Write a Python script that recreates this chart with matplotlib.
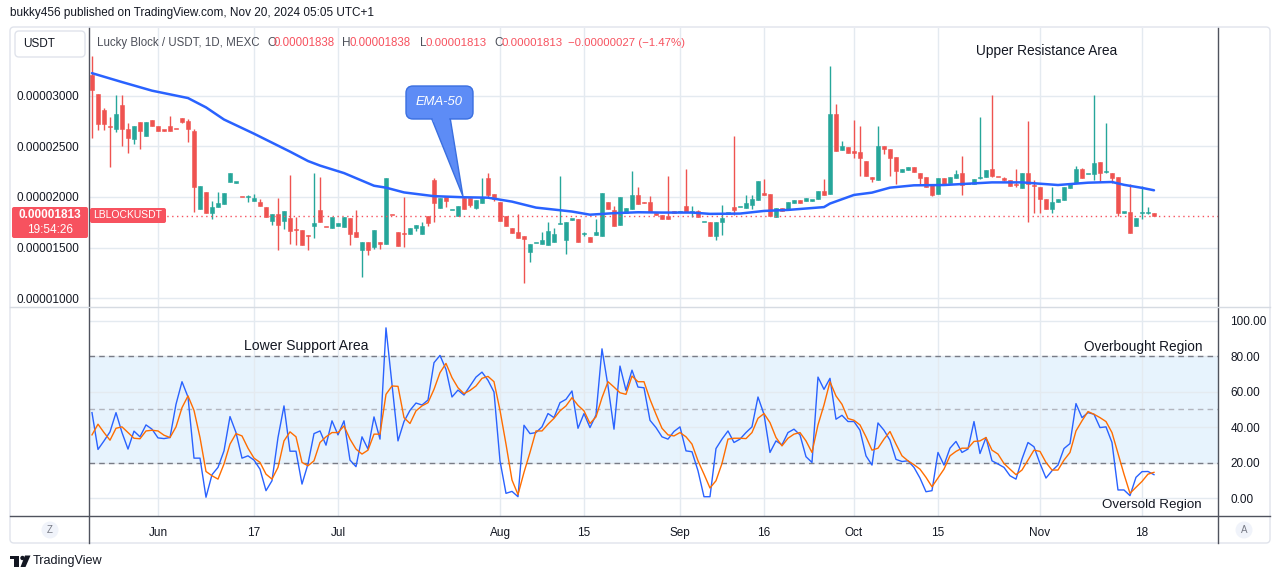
import numpy as np
import matplotlib
matplotlib.use("Agg")
import matplotlib.pyplot as plt
import matplotlib.transforms as mtransforms
from matplotlib.patches import FancyBboxPatch, Polygon, Circle, Rectangle
from matplotlib.lines import Line2D

plt.rcParams['font.family'] = ['Liberation Sans', 'DejaVu Sans']

# ---------------- data (prices in units of 0.00000001 USDT) ----------------
SCALE = 1e-8
first_bar = -11          # bar index of first candle, 0 = Jun 1

opens = [3200, 3013, 2862, 2695, 2672, 2905, 2675, 2574, 2738, 2603,
         2757, 2700, 2660, 2698, 2675, 2777, 2748, 2653, 1885, 2049,
         1846, 1905, 1934, 2144, 2142, 2002, 2000, 1964, 1951, 1902,
         1767, 1833, 1767, 1790, 1678, 1675, 1620, 1718, 1872, 1705,
         1692, 1718, 1708, 1790, 1656, 1472, 1557, 1505, 1554, 1538,
         1822, 1656, 1636, 1636, 1695, 1636, 1816, 2167, 1895, 2000,
         1869, 1816, 1993, 1990, 1892, 1944, 2190, 2030, 1951, 1813,
         1695, 1656, 1616, 1452, 1541, 1538, 1521, 1551, 1732, 1577,
         1777, 1780, 1636, 1607, 1620, 1610, 1951, 1872, 1728, 1839,
         1879, 2016, 1947, 1948, 1839, 1823, 1816, 1859, 1853, 1915,
         1852, 1859, 1748, 1754, 1610, 1748, 1836, 1902, 1900, 1892,
         1925, 1974, 2030, 2030, 1807, 1892, 1885, 1944, 1970, 1964,
         1965, 1980, 2059, 2030, 2816, 2462, 2492, 2453, 2443, 2354,
         2197, 2170, 2508, 2472, 2393, 2246, 2266, 2295, 2236, 2197,
         2115, 2030, 2187, 2141, 2187, 2236, 2125, 2128, 2184, 2197,
         2275, 2199, 2187, 2167, 2120, 2092, 2236, 2113, 2098, 1980,
         1882, 1951, 1970, 2088, 2138, 2275, 2223, 2226, 2344, 2243,
         2236, 2197, 1846, 1852, 1718, 1837, 1840, 1838]
highs = [3397, 3013, 2882, 2790, 3003, 3003, 2731, 2698, 2738, 2738,
         2757, 2700, 2660, 2797, 2675, 2777, 2774, 2675, 2108, 2049,
         1961, 2046, 2039, 2233, 2146, 2002, 2016, 2030, 1980, 1902,
         1833, 1990, 1859, 2213, 1807, 1675, 1620, 2233, 2200, 1705,
         1800, 1744, 1800, 1790, 1872, 1557, 1557, 1675, 1554, 2190,
         1822, 1656, 2003, 1695, 1725, 1748, 1816, 2187, 1993, 2000,
         1875, 1911, 2003, 1990, 1974, 2187, 2236, 2030, 1951, 1813,
         1695, 1833, 1616, 1538, 1547, 1656, 1754, 1692, 2207, 1754,
         1783, 1780, 1652, 1607, 1784, 2036, 1951, 1915, 2000, 1892,
         2256, 2102, 1947, 2013, 1839, 1823, 2207, 1859, 1859, 2275,
         1915, 1872, 1752, 1754, 1754, 1921, 1839, 2600, 1903, 2020,
         2020, 2157, 2177, 2030, 1892, 1892, 1951, 1970, 1970, 1990,
         1970, 2059, 2177, 3298, 2915, 2551, 2492, 2757, 2698, 2354,
         2197, 2698, 2508, 2472, 2393, 2275, 2295, 2295, 2236, 2197,
         2115, 2187, 2187, 2197, 2266, 2403, 2130, 2177, 2787, 2266,
         3003, 2199, 2197, 2167, 2275, 2236, 2748, 2167, 2098, 1980,
         2098, 1980, 2098, 2138, 2305, 2285, 2229, 3003, 2344, 2728,
         2236, 2197, 1852, 2128, 1793, 2108, 1902, 1838]
lows = [2587, 2659, 2659, 2292, 2643, 2505, 2436, 2528, 2469, 2603,
        2705, 2653, 2655, 2653, 2670, 2731, 2544, 1856, 1885, 1846,
        1780, 1905, 1934, 2144, 2142, 1998, 1954, 1964, 1915, 1807,
        1725, 1472, 1685, 1534, 1528, 1525, 1479, 1593, 1748, 1700,
        1692, 1718, 1708, 1521, 1600, 1206, 1423, 1489, 1489, 1538,
        1818, 1511, 1502, 1636, 1659, 1636, 1715, 1754, 1895, 1905,
        1869, 1816, 1885, 1905, 1882, 1944, 1987, 1964, 1767, 1718,
        1649, 1590, 1151, 1354, 1541, 1538, 1521, 1551, 1732, 1433,
        1777, 1551, 1616, 1551, 1620, 1610, 1885, 1718, 1728, 1839,
        1879, 1931, 1941, 1852, 1820, 1787, 1780, 1839, 1853, 1856,
        1807, 1807, 1748, 1610, 1570, 1620, 1836, 1823, 1900, 1892,
        1885, 1974, 2020, 1816, 1807, 1859, 1885, 1944, 1944, 1964,
        1965, 1980, 2023, 2030, 2453, 2462, 2436, 2387, 2207, 2207,
        2151, 2170, 2426, 2207, 2128, 2246, 2266, 2246, 2121, 2098,
        2010, 2030, 2118, 2141, 2187, 2020, 2125, 2128, 2177, 2197,
        2197, 2195, 2157, 2111, 2098, 2092, 1757, 1846, 1846, 1882,
        1846, 1951, 1970, 2088, 2138, 2190, 2223, 2167, 2148, 2236,
        2138, 1816, 1846, 1649, 1718, 1784, 1836, 1813]
closes = [3059, 2725, 2725, 2690, 2816, 2672, 2584, 2698, 2653, 2738,
          2705, 2653, 2655, 2653, 2670, 2741, 2672, 2095, 2108, 1846,
          1905, 1941, 2039, 2233, 2146, 1998, 2010, 1990, 1915, 1807,
          1833, 1728, 1859, 1659, 1672, 1525, 1616, 1744, 1754, 1700,
          1800, 1744, 1800, 1633, 1600, 1557, 1479, 1675, 1538, 2190,
          1818, 1511, 1632, 1695, 1725, 1715, 1741, 1944, 1993, 1964,
          1875, 1911, 1885, 1918, 1974, 1987, 2020, 1977, 1767, 1718,
          1649, 1590, 1580, 1538, 1547, 1574, 1666, 1636, 1738, 1754,
          1783, 1551, 1643, 1551, 1656, 2036, 1885, 1718, 2000, 1892,
          2016, 1931, 1941, 1852, 1820, 1787, 1780, 1839, 1859, 1856,
          1858, 1807, 1752, 1610, 1754, 1793, 1839, 1872, 1903, 1941,
          1980, 2157, 2023, 1816, 1892, 1859, 1951, 1970, 1944, 1990,
          1970, 2059, 2023, 2816, 2453, 2502, 2436, 2436, 2387, 2207,
          2180, 2508, 2469, 2387, 2259, 2275, 2295, 2246, 2187, 2098,
          2020, 2187, 2118, 2197, 2226, 2118, 2130, 2177, 2190, 2266,
          2207, 2195, 2167, 2111, 2115, 2236, 2128, 2108, 1984, 1882,
          1951, 1980, 2098, 2138, 2275, 2190, 2229, 2334, 2239, 2249,
          2187, 1843, 1852, 1649, 1793, 1843, 1843, 1813]

# EMA-50 at sample bars
ema_bars = [-11, -6, -1, 5, 8, 11, 16, 22, 25, 27, 31, 36, 38, 41, 46, 51, 55,
            59, 63, 69, 72, 76, 80, 84, 89, 92, 97, 101, 105, 111, 112, 116,
            119, 122, 126, 131, 139, 144, 150, 155, 159, 161, 164, 166]
ema_vals = [3223, 3135, 3050, 2977, 2885, 2765, 2625, 2448, 2355, 2310, 2236,
            2111, 2092, 2045, 2008, 1997, 1993, 1954, 1895, 1856, 1825, 1840,
            1849, 1846, 1846, 1833, 1836, 1862, 1872, 1900, 1935, 2020, 2043,
            2092, 2115, 2118, 2144, 2144, 2118, 2141, 2148, 2120, 2090, 2066]

stoch_k = [48.2, 27.5, 32.3, 37.4, 48.2, 37, 27.7, 37.8, 34.6, 41.3,
           38.9, 34, 33.6, 34.2, 52.9, 65.6, 57, 22.6, 22.6, 0.6,
           13.3, 17.4, 26.7, 46, 37, 22.6, 23.9, 21.5, 16.4, 4.3,
           9.9, 34.2, 52, 26.5, 26.5, 8, 19.3, 36.4, 37.9, 29.9,
           43.6, 35.7, 43.6, 21.5, 17.8, 34.6, 27.7, 45.8, 33.3, 95.9,
           64.1, 32.3, 43.2, 49.5, 53.6, 52.5, 55.3, 76.3, 80.4, 72.5,
           57, 60.9,
           58.1, 63.2, 68.2, 71, 66.4, 59.8, 21.1, 2.8, 3.9, 0.9,
           41.1, 36.4, 37, 40.2, 47.7, 45.4, 53.8, 55.7, 60.4, 39.4,
           47.7, 39.8, 46.9, 84.1, 63.2, 38.9, 74.4, 60.7, 72.1, 62.6,
           62.2, 43.9, 39.8, 34.6, 33.3, 37.6, 40.2, 26.7, 26.2, 15.5,
           0.9, 0.9, 28, 33.3, 37.9, 31.4, 33.3, 37, 40.2, 57,
           47.3, 25.8, 32.3, 30.1, 37, 38.9, 35.7, 23.4, 20.2, 68.2,
           61.3, 67.5, 44.5, 46.7, 43.2, 43.2, 38.3, 23.9, 18.7, 42.4,
           38.3, 32.7, 21.9, 20.7, 21.1, 17.4, 11.4, 3.7, 4.3, 25.8,
           18.7, 28.2, 32, 25.8, 27.7, 43.2, 25.2, 34.2, 21.1, 19.3,
           17.4, 12.7, 10.8, 22.1, 31.4, 29, 19.6, 11.4, 15.5, 18.7,
           28, 30.8, 53.3, 45.4, 48.2, 47.3, 39.8, 40.2, 31.4, 4.7,
           4.7, 1.5, 11.8, 15, 15.1, 13.3]
stoch_d = [35.7, 41.7, 37, 32.7, 39.4, 40.2, 37, 33.8, 33.5, 37.9,
           38.3, 37.9, 35.5, 34.2, 40.2, 51, 57.6, 49.5, 34.2, 15.1,
           12.7, 10.8, 19.3, 30.5, 36.4, 35.1, 28.2, 22.6, 20.2, 13.6,
           10.8, 17.4, 32.3, 37.4, 34.6, 20.2, 18.3, 21.1, 31.4, 34.6,
           37, 37, 40.7, 33.3, 27.7, 24.9, 27.1, 36.1, 36.1, 58.5,
           63.2, 63, 45.4, 42.1, 49.2, 52, 53.8, 61.3, 70.7, 75.9,
           67.9, 62.2,
           58.9, 60.7, 63.2, 67.5, 68.6, 65.6, 49.5, 30.5, 10.3, 2.1,
           14.6, 25.8, 37.9, 37.9, 41.7, 45, 49.2, 52, 56.6, 52.3,
           49.2, 42.1, 45.8, 56.6, 65.6, 62.6, 59.4, 58.5, 68.8, 65.6,
           65.6, 55.7, 47.3, 39.4, 35.7, 35.1, 37, 34.6, 30.5, 21.1,
           13.6, 5.8, 9.9, 19.6, 33.3, 33.8, 33.8, 33.6, 37, 45,
           47.7, 42.6, 34.2, 29.5, 33.8, 36.1, 37, 32.3, 25.8, 41.3,
           52.5, 65.6, 57.6, 52.9, 44.9, 43.9, 41.3, 34.6, 27.1, 28.2,
           33.3, 37.6, 30.5, 23.9, 21.1, 18.9, 16.4, 11.8, 6.5, 11.4,
           16.4, 23.9, 26.4, 28.2, 28.2, 32, 32.3, 34.2, 27.1, 24.9,
           19.6, 16.4, 13.3, 15.9, 21.5, 27.1, 26.4, 20.2, 15.9, 15.9,
           21.5, 25.8, 37.9, 43.6, 48.8, 47.3, 45.4, 43.2, 37, 25.2,
           13.6, 2.8, 6.2, 9.5, 13.6, 14.6]

tick_bars = [0, 16, 30, 57, 71, 87, 101, 116, 130, 147, 164]
tick_labels = ["Jun", "17", "Jul", "Aug", "15", "Sep", "16", "Oct", "15", "Nov", "18"]
price_ticks = [1000, 1500, 2000, 2500, 3000]
stoch_ticks = [0, 20, 40, 60, 80, 100]

# ---------------- style ----------------
GREEN, RED = '#26a69a', '#ef5350'
TXT = '#131722'
GRID = '#e4eaf0'
AXLINE = '#50535e'
LRED = '#f7525f'

W, H = 1281, 579
fig = plt.figure(figsize=(W / 100, H / 100), dpi=100, facecolor='white')
ID = mtransforms.IdentityTransform()


def P(x, y):
    return (x, H - y)


def rect(x0, y0, x1, y1):
    return [x0 / W, 1 - y1 / H, (x1 - x0) / W, (y1 - y0) / H]


def T(x, y, s, **kw):
    kw.setdefault('va', 'center')
    kw.setdefault('color', TXT)
    return fig.text(*P(x, y), s, transform=ID, **kw)


X0, X1 = 89, 1218
ax = fig.add_axes(rect(X0, 28, X1, 306))
ax2 = fig.add_axes(rect(X0, 306, X1, 516))

x = np.arange(first_bar, first_bar + len(opens))
o = np.array(opens) * SCALE
h = np.array(highs) * SCALE
l = np.array(lows) * SCALE
c = np.array(closes) * SCALE
cols = np.where(c >= o, GREEN, RED)
ymin, ymax = 923 * SCALE, 3669 * SCALE
px_price = (ymax - ymin) / (306 - 28)
body_b = np.minimum(o, c)
body_h = np.maximum(np.abs(c - o), 1.3 * px_price)

for a in (ax, ax2):
    a.set_facecolor('white')
    for s in a.spines.values():
        s.set_visible(False)
    a.set_xticks(tick_bars)
    a.set_xlim(-11.5, 176.67)
    a.grid(True, color=GRID, lw=1)
    a.set_axisbelow(True)

ax.vlines(x, l, h, colors=cols, lw=1, zorder=2)
ax.bar(x, body_h, bottom=body_b, width=0.8, color=cols, edgecolor=cols,
       linewidth=0.4, zorder=2)
ax.plot(ema_bars, np.array(ema_vals) * SCALE, color='#2962ff', lw=1.8,
        solid_capstyle='round', solid_joinstyle='round', zorder=4)
ax.axhline(c[-1], color=LRED, lw=1, ls=(0, (1, 2.5)), zorder=3)
ax.set_ylim(ymin, ymax)
ax.set_xlim(-11.5, 176.67)
ax.set_yticks(np.array(price_ticks) * SCALE)
ax.set_yticklabels([f"{v * SCALE:.8f}" for v in price_ticks])
ax.tick_params(axis='y', length=0, pad=7, labelsize=8.5, labelcolor=TXT)
ax.tick_params(axis='x', length=0, labelbottom=False)

# stochastic panel
ax2.axhspan(20, 80, color='#e7f3fd', zorder=0.5, lw=0)
ax2.axhline(80, color='#787b86', lw=1, ls=(0, (4, 3)), zorder=1)
ax2.axhline(20, color='#787b86', lw=1, ls=(0, (4, 3)), zorder=1)
ax2.axhline(50, color='#b2b5be', lw=1, ls=(0, (4, 3)), zorder=1)
ax2.plot(x, stoch_k, color='#2962ff', lw=1.0, zorder=3)
ax2.plot(x, stoch_d, color='#ff6d00', lw=1.0, zorder=3)
ax2.set_ylim(-9.95, 108.2)
ax2.set_xlim(-11.5, 176.67)
ax2.yaxis.tick_right()
ax2.set_yticks(stoch_ticks)
ax2.set_yticklabels([f"{v:.2f}" for v in stoch_ticks])
ax2.tick_params(axis='y', length=0, pad=9, labelsize=8.5, labelcolor=TXT)
ax2.set_xticklabels(tick_labels)
ax2.tick_params(axis='x', length=0, pad=8, labelsize=8.5, labelcolor=TXT)

# ---------------- frame / separators ----------------
frame = FancyBboxPatch(P(10, 543), 1260, 516, boxstyle='round,pad=0,rounding_size=4',
                       transform=ID, fc='none', ec='#e0e3eb', lw=1, zorder=1)
fig.patches.append(frame)
for (xa, ya, xb, yb, col) in [(X0, 28, X0, 543, AXLINE), (X1, 28, X1, 543, AXLINE),
                              (10, 516, 1270, 516, AXLINE), (10, 306.5, 1270, 306.5, '#d6dbe2')]:
    fig.lines.append(Line2D([xa, xb], [H - ya, H - yb], transform=ID, color=col, lw=1, zorder=2))

# ---------------- texts ----------------
renderer = fig.canvas.get_renderer()


def fit(t, width):
    w = t.get_window_extent(renderer).width
    t.set_fontsize(t.get_fontsize() * width / w)
    return t


fit(T(10, 13, "bukky456 published on TradingView.com, Nov 20, 2024 05:05 UTC+1",
      fontsize=9, color='#131722'), 363)

fig.patches.append(FancyBboxPatch(P(15, 57), 70, 26, boxstyle='round,pad=0,rounding_size=4',
                                  transform=ID, fc='white', ec='#e0e3eb', lw=1, zorder=5))
T(23, 44, "USDT", fontsize=8.5, zorder=6)

LEG = '#4c4f59'
fit(T(97, 43, "Lucky Block / USDT, 1D, MEXC", fontsize=8.5, color=LEG), 162)
for xl, lab, xv, val in [(267, "O", 274, "0.00001838"), (342, "H", 350, "0.00001838"),
                         (420, "L", 426, "0.00001813"), (494, "C", 501, "0.00001813")]:
    T(xl, 43, lab, fontsize=8.5, color=LEG)
    fit(T(xv, 43, val, fontsize=8.5, color=LRED), 61)
fit(T(568, 43, "\u22120.00000027 (\u22121.47%)", fontsize=8.5, color=LRED), 117)

fit(T(976, 51, "Upper Resistance Area", fontsize=9.5), 141)
fit(T(244, 346, "Lower Support Area", fontsize=9.5), 124)
fit(T(1084, 347, "Overbought Region", fontsize=9.5), 118)
fit(T(1102, 505, "Oversold Region", fontsize=9.5), 100)

# last price labels
fig.patches.append(FancyBboxPatch(P(12, 238), 76, 31, boxstyle='round,pad=0,rounding_size=2',
                                  transform=ID, fc=LRED, ec='none', zorder=5))
T(50, 215, "0.00001813", fontsize=8.5, color='white', ha='center', zorder=6, weight='bold')
T(50, 230, "19:54:26", fontsize=8.5, color='white', ha='center', zorder=6)
fig.patches.append(FancyBboxPatch(P(90, 223), 76, 15, boxstyle='round,pad=0,rounding_size=2',
                                  transform=ID, fc=LRED, ec='none', zorder=5))
fit(T(128, 215.5, "LBLOCKUSDT", fontsize=8, color='white', ha='center', zorder=6), 69)

# EMA-50 callout
CALL, CALL_E = '#5d8cf6', '#3a6fe0'
tip = P(463, 196.5)
fig.patches.append(Polygon([P(431, 117), P(450, 117), tip], closed=True, transform=ID,
                           fc=CALL, ec=CALL_E, lw=1, zorder=6))
fig.patches.append(FancyBboxPatch(P(406, 119), 67, 33, boxstyle='round,pad=0,rounding_size=7',
                                  transform=ID, fc=CALL, ec=CALL_E, lw=1, zorder=7))
fig.patches.append(Polygon([P(432.5, 115), P(449, 115), P(449.3, 122), P(432.8, 122)], closed=True,
                           transform=ID, fc=CALL, ec='none', zorder=8))
fit(T(439.5, 102, "EMA-50", fontsize=10, color='white', ha='center', style='italic',
      zorder=9), 47)

# Z / A buttons
for cx, letter in [(50, "Z"), (1244, "A")]:
    fig.patches.append(Circle(P(cx, 530), 8.5, transform=ID, fc='#f0f3fa', ec='none', zorder=5))
    T(cx, 530, letter, fontsize=7, color='#787b86', ha='center', zorder=6)

# footer logo + text
fig.patches.append(Rectangle(P(10, 559), 9, 3.5, transform=ID, fc='#131722', zorder=5))
fig.patches.append(Rectangle(P(14, 567), 4.5, 10, transform=ID, fc='#131722', zorder=5))
fig.patches.append(Circle(P(22.5, 558), 2.2, transform=ID, fc='#131722', zorder=5))
fig.patches.append(Polygon([P(25, 555.5), P(30.5, 555.5), P(25.5, 567), P(20.5, 567)], closed=True,
                           transform=ID, fc='#131722', zorder=5))
fit(T(33, 561, "TradingView", fontsize=9.5, color='#131722'), 70)

fig.savefig("out.png", dpi=100, facecolor='white')
